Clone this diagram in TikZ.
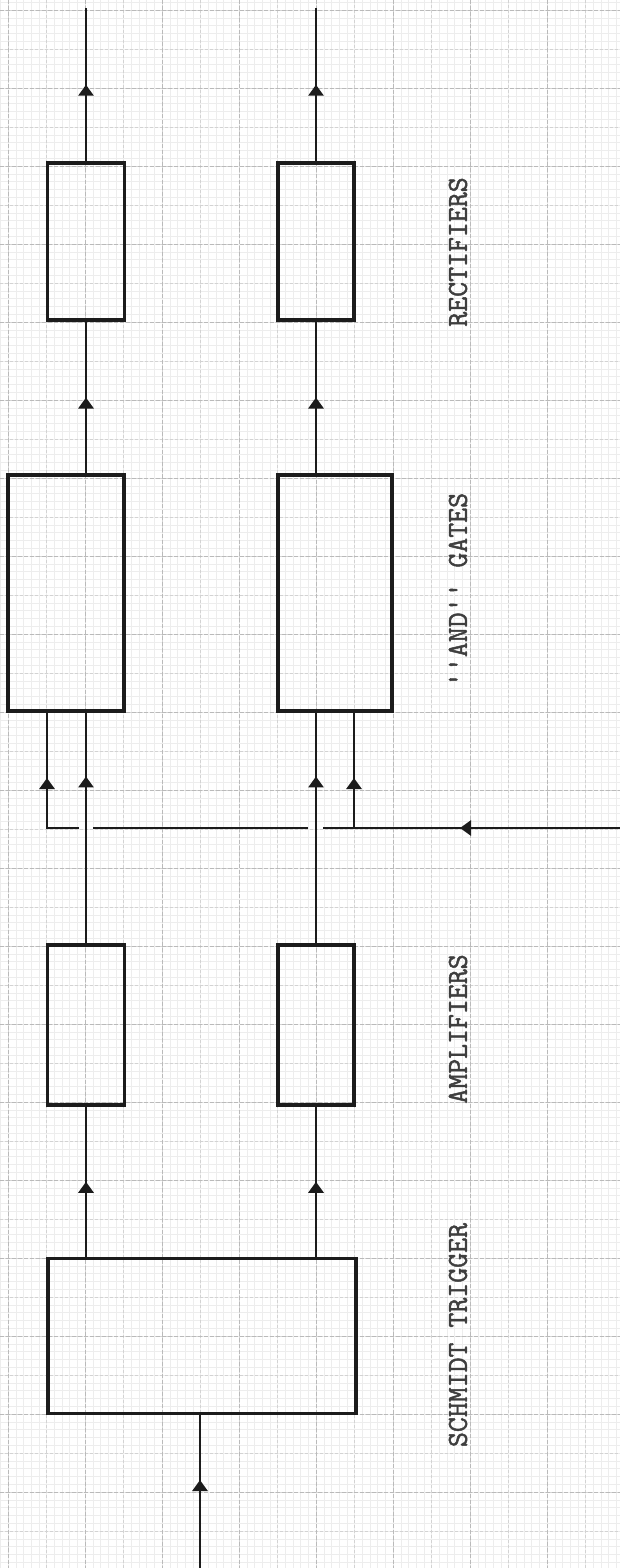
\documentclass[tikz,border=0pt]{standalone}
\usepackage{fontspec}
\newfontfamily\typew{Latin Modern Mono}[FakeBold=1.6]
\usetikzlibrary{arrows.meta,decorations.markings}
\definecolor{ink}{HTML}{1C1C1C}
\definecolor{gridc}{HTML}{8C8C8C}
\tikzset{
  blk/.style={draw=ink, line width=3.1pt, inner sep=0pt},
  wire/.style={draw=ink, line width=2.7pt},
  arrowat/.style={postaction={decorate}, decoration={markings,
      mark=at position #1 with {\arrow{Triangle[width=15pt,length=11pt]}}}},
  lbl/.style={text=ink!85, font=\typew\fontsize{29pt}{29pt}\selectfont, inner sep=0pt, rotate=90},
  gfine/.style={draw=gridc!16, line width=0.3pt},
  ghalf/.style={draw=gridc!38, line width=0.5pt, dash pattern=on 3pt off 2pt},
  gmajor/.style={draw=gridc!60, line width=0.7pt, dash pattern=on 4pt off 2pt},
}
\begin{document}
\begin{tikzpicture}[x=1pt,y=-1pt]
\useasboundingbox[fill=white] (0,0) rectangle (620,1568);
% graph paper
\begin{scope}
\clip (0,0) rectangle (620,1568);
\foreach \i in {-1,...,80} \draw[gfine] ({8+\i*7.7},0) -- ({8+\i*7.7},1568);
\foreach \j in {-2,...,200} \draw[gfine] (0,{10+\j*7.8}) -- (620,{10+\j*7.8});
\foreach \i in {0,...,16} \draw[ghalf] ({8+\i*38.5},0) -- ({8+\i*38.5},1568);
\foreach \j in {0,...,40} \draw[ghalf] (0,{10+\j*39}) -- (620,{10+\j*39});
\foreach \i in {0,...,8} \draw[gmajor] ({8+\i*77},0) -- ({8+\i*77},1568);
\foreach \j in {0,...,20} \draw[gmajor] (0,{10+\j*78}) -- (620,{10+\j*78});
\end{scope}

% blocks
\node[blk, minimum width=77pt, minimum height=157pt] (rect1) at (86,241.5) {};
\node[blk, minimum width=76pt, minimum height=157pt] (rect2) at (316,241.5) {};
\node[blk, minimum width=116pt, minimum height=236pt] (gate1) at (66,593) {};
\node[blk, minimum width=114pt, minimum height=236pt] (gate2) at (335,593) {};
\node[blk, minimum width=77pt, minimum height=160pt] (amp1) at (86,1025) {};
\node[blk, minimum width=76pt, minimum height=160pt] (amp2) at (316,1025) {};
\node[blk, minimum width=308pt, minimum height=155pt] (st) at (202,1336) {};

% labels
\node[lbl] (lrect) at (458,252) {RECTIFIERS};
\node[lbl] (lgate) at (458,590) {''AND'' GATES};
\node[lbl] (lamp) at (458,1029) {AMPLIFIERS};
\node[lbl] (lst) at (458,1335) {SCHMIDT TRIGGER};

% free ends and bus points
\coordinate (out1) at (86,8);
\coordinate (out2) at (316,8);
\coordinate (in) at (200,1568);
\coordinate (busR) at (620,828);
\coordinate (g2r) at (323,828);
\coordinate (g2l) at (308,828);
\coordinate (g1r) at (93,828);
\coordinate (g1l) at (79,828);
\coordinate (busL) at (47,828);
\coordinate (tap2) at (354,828);

% outputs
\draw[wire, arrowat=0.5] (rect1.north) -- (out1);
\draw[wire, arrowat=0.5] (rect2.north) -- (out2);
% gates to rectifiers
\draw[wire, arrowat=0.5] (gate1.north -| rect1.south) -- (rect1.south);
\draw[wire, arrowat=0.5] (gate2.north -| rect2.south) -- (rect2.south);
% amplifiers to gates
\draw[wire, arrowat=167pt] (amp1.north) -- (amp1.north |- gate1.south);
\draw[wire, arrowat=167pt] (amp2.north) -- (amp2.north |- gate2.south);
% schmitt to amplifiers
\draw[wire, arrowat=0.5] (amp1.south |- st.north) -- (amp1.south);
\draw[wire, arrowat=0.5] (amp2.south |- st.north) -- (amp2.south);
% input
\draw[wire, arrowat=88pt] (in) -- (in |- st.south);
% bus
\draw[wire, arrowat=160pt] (busR) -- (g2r);
\draw[wire] (g2l) -- (g1r);
\draw[wire, arrowat=82pt] (g1l) -- (busL) -- (busL |- gate1.south);
\draw[wire, arrowat=50pt] (tap2) -- (tap2 |- gate2.south);
\end{tikzpicture}
\end{document}
